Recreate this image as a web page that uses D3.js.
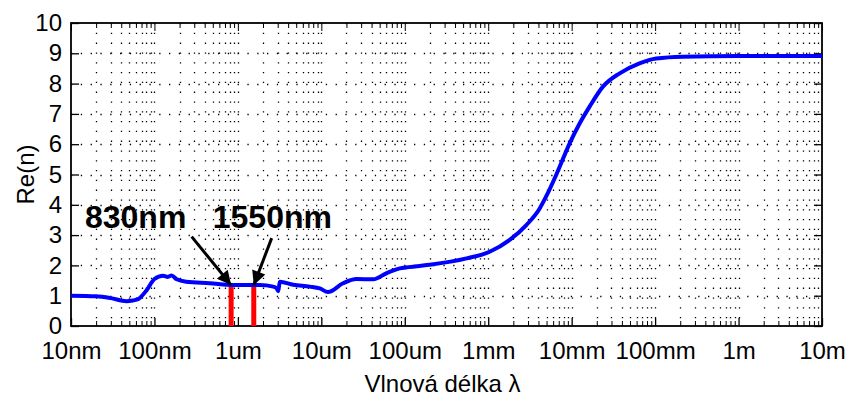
<!DOCTYPE html>
<html><head><meta charset="utf-8">
<script src="https://cdn.jsdelivr.net/npm/d3@7"></script>
<style>
html,body{margin:0;padding:0;background:#fff;}
text{font-family:"Liberation Sans",Arial,sans-serif;fill:#000;}
</style></head>
<body><svg id="c" width="848" height="396"></svg>
<script>
// wavelength in metres, real part of refractive index
const wavelength = [1e-8, 2e-8, 3e-8, 4.6e-8, 5.5e-8, 6.5e-8, 8.1e-8, 1.0e-7, 1.27e-7, 1.45e-7, 1.6e-7, 1.85e-7, 2.4e-7, 4.6e-7, 8.8e-7, 1.83e-6, 2.65e-6, 2.9e-6, 3.04e-6, 3.18e-6, 4.6e-6, 7.3e-6, 9.6e-6, 1.2e-5, 1.82e-5, 2.64e-5, 4.2e-5, 6.0e-5, 8.7e-5, 1.51e-4, 1.99e-4, 5.5e-4, 1.04e-3, 1.81e-3, 2.86e-3, 4.14e-3, 5e-3, 6.56e-3, 9.46e-3, 1.25e-2, 1.64e-2, 2.37e-2, 3.76e-2, 6.5e-2, 1.03e-1, 2.15e-1, 1, 10];
const reN = [1.0, 0.98, 0.92, 0.82, 0.84, 0.9, 1.19, 1.55, 1.66, 1.62, 1.67, 1.54, 1.46, 1.41, 1.35, 1.35, 1.3, 1.25, 1.15, 1.46, 1.36, 1.3, 1.24, 1.12, 1.41, 1.55, 1.54, 1.74, 1.9, 1.98, 2.02, 2.23, 2.45, 2.84, 3.33, 3.88, 4.3, 5.0, 6.03, 6.69, 7.24, 7.9, 8.34, 8.67, 8.83, 8.89, 8.91, 8.91];

const xTickValues = [1e-8, 1e-7, 1e-6, 1e-5, 1e-4, 1e-3, 1e-2, 1e-1, 1, 10];
const xTickLabels = ["10nm", "100nm", "1um", "10um", "100um", "1mm", "10mm", "100mm", "1m", "10m"];
const yTickValues = [0, 1, 2, 3, 4, 5, 6, 7, 8, 9, 10];

// marked wavelengths (red bars) and their annotations
const markWavelength = [830e-9, 1550e-9];
const markValue = [1.35, 1.35];
const markLabels = ["830nm", "1550nm"];
const labelX = [1.47e-8, 5.0e-7];
const labelY = [3.23, 3.23];
const arrowTailX = [2.79e-7, 2.54e-6];
const arrowTailY = [2.95, 2.9];

const xTitle = "Vlnová délka λ";
const yTitle = "Re(n)";

const svg = d3.select("#c");
const L = 71, R = 822, T = 23, B = 326;
const x = d3.scaleLog().domain([1e-8, 10]).range([L, R]);
const y = d3.scaleLinear().domain([0, 10]).range([B, T]);

// minor tick values
const minor = [];
for (let e = -8; e < 1; e++) for (let k = 2; k <= 9; k++) minor.push(k * Math.pow(10, e));
const allX = xTickValues.concat(minor);

// grid
const g = svg.append("g");
g.selectAll("line.vg").data(allX.filter(v => v > 1e-8 * 1.0001 && v < 10 * 0.9999)).enter().append("line")
  .attr("x1", d => Math.round(x(d)) + 0.5).attr("x2", d => Math.round(x(d)) + 0.5)
  .attr("y1", T).attr("y2", B)
  .attr("stroke", "#000").attr("stroke-width", 1.3).attr("stroke-dasharray", "1.3,8.5");
g.selectAll("line.hg").data(yTickValues.filter(v => v > 0 && v < 10)).enter().append("line")
  .attr("x1", L).attr("x2", R)
  .attr("y1", d => Math.round(y(d)) + 0.5).attr("y2", d => Math.round(y(d)) + 0.5)
  .attr("stroke", "#000").attr("stroke-width", 1.3).attr("stroke-dasharray", "1.3,8.5");

// axes with inner ticks
const axB = d3.axisBottom(x).tickValues(xTickValues).tickFormat((d, i) => xTickLabels[i]).tickSizeInner(-8).tickSizeOuter(0).tickPadding(16);
const gb = svg.append("g").attr("transform", `translate(0,${B})`).call(axB);
gb.select(".domain").remove();
gb.selectAll("text").attr("font-size", 24).attr("font-family", "Liberation Sans, Arial, sans-serif").attr("dy", "0.71em");
gb.selectAll("line").attr("stroke-width", 1.3);

const axBm = d3.axisBottom(x).tickValues(minor).tickFormat("").tickSizeInner(-5).tickSizeOuter(0);
const gbm = svg.append("g").attr("transform", `translate(0,${B})`).call(axBm);
gbm.select(".domain").remove();

const axT = d3.axisTop(x).tickValues(xTickValues).tickFormat("").tickSizeInner(-8).tickSizeOuter(0);
const gt = svg.append("g").attr("transform", `translate(0,${T})`).call(axT);
gt.select(".domain").remove();
const axTm = d3.axisTop(x).tickValues(minor).tickFormat("").tickSizeInner(-5).tickSizeOuter(0);
const gtm = svg.append("g").attr("transform", `translate(0,${T})`).call(axTm);
gtm.select(".domain").remove();

const axL = d3.axisLeft(y).tickValues(yTickValues).tickFormat(d3.format("d")).tickSizeInner(-8).tickSizeOuter(0).tickPadding(9);
const gl = svg.append("g").attr("transform", `translate(${L},0)`).call(axL);
gl.select(".domain").remove();
gl.selectAll("text").attr("font-size", 24).attr("font-family", "Liberation Sans, Arial, sans-serif");
gl.selectAll("line").attr("stroke-width", 1.3);

const axR = d3.axisRight(y).tickValues(yTickValues).tickFormat("").tickSizeInner(-8).tickSizeOuter(0);
const gr = svg.append("g").attr("transform", `translate(${R},0)`).call(axR);
gr.select(".domain").remove();
gr.selectAll("line").attr("stroke-width", 1.3);

// frame
svg.append("rect").attr("x", L).attr("y", T).attr("width", R - L).attr("height", B - T)
  .attr("fill", "none").attr("stroke", "#000").attr("stroke-width", 1.8);

// red bars
svg.selectAll("line.mark").data(markWavelength).enter().append("line")
  .attr("x1", d => x(d)).attr("x2", d => x(d))
  .attr("y1", B).attr("y2", (d, i) => y(markValue[i]))
  .attr("stroke", "#ff0000").attr("stroke-width", 5);

// curve
const line = d3.line().x(d => x(d[0])).y(d => y(d[1])).curve(d3.curveMonotoneX);
svg.append("path").datum(wavelength.map((w, i) => [w, reN[i]]))
  .attr("d", line).attr("fill", "none").attr("stroke", "#0000ff").attr("stroke-width", 4)
  .attr("stroke-linejoin", "round");

// arrows
const defs = svg.append("defs");
defs.append("marker").attr("id", "ah").attr("viewBox", "0 0 10 10").attr("refX", 10).attr("refY", 5)
  .attr("markerUnits", "userSpaceOnUse").attr("markerWidth", 18).attr("markerHeight", 14).attr("orient", "auto")
  .append("path").attr("d", "M0,0 L10,5 L0,10 Z").attr("fill", "#000");
markWavelength.forEach((w, i) => {
  svg.append("line")
    .attr("x1", x(arrowTailX[i])).attr("y1", y(arrowTailY[i]))
    .attr("x2", x(w)).attr("y2", y(markValue[i]))
    .attr("stroke", "#000").attr("stroke-width", 3).attr("marker-end", "url(#ah)");
  svg.append("text").attr("x", x(labelX[i])).attr("y", y(labelY[i]))
    .attr("font-size", 32).attr("font-weight", "bold").text(markLabels[i]);
});

// titles
svg.append("text").attr("x", (L + R) / 2 - 4).attr("y", 392).attr("text-anchor", "middle")
  .attr("font-size", 24).text(xTitle);
svg.append("text").attr("transform", `translate(34,${(T + B) / 2}) rotate(-90)`).attr("text-anchor", "middle")
  .attr("font-size", 24).text(yTitle);
</script></body></html>
